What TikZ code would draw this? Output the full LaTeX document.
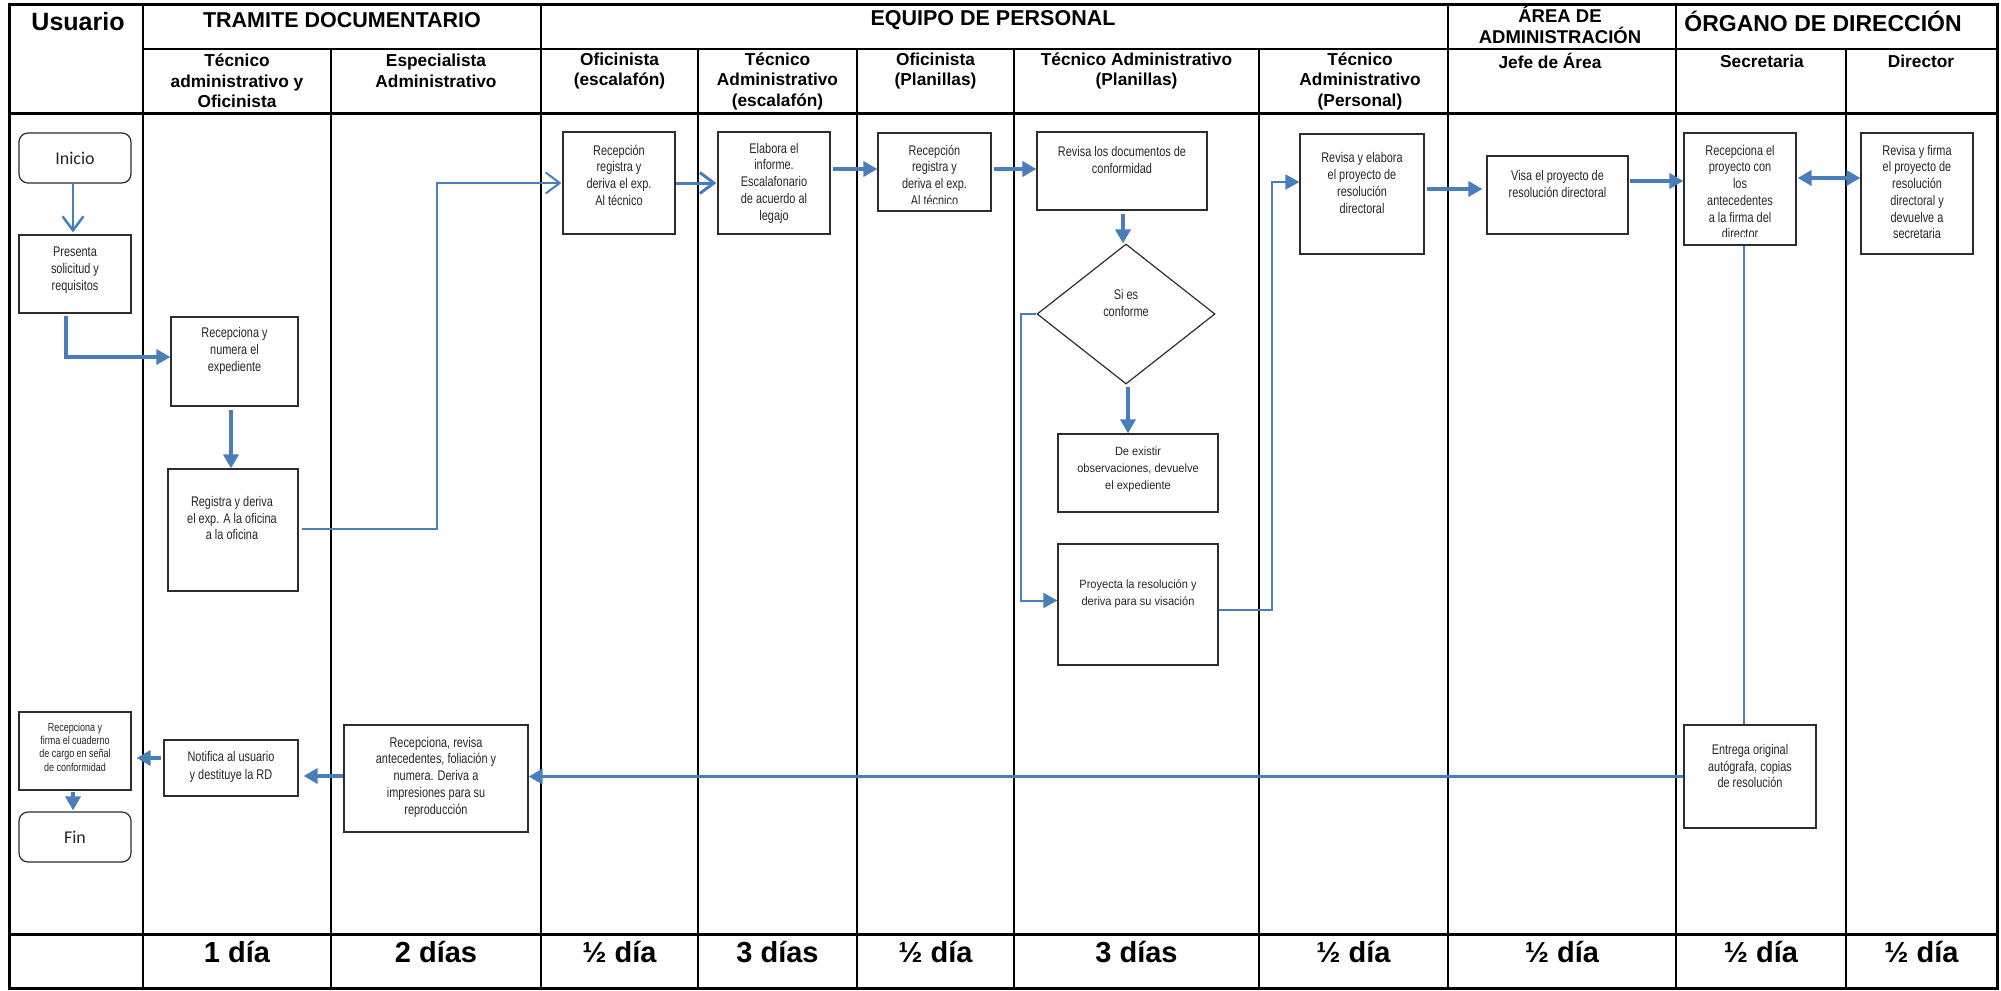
\documentclass[tikz,border=0pt]{standalone}
\usepackage{fontspec}
\setmainfont{Liberation Sans}
\newfontfamily\boxfont[FakeStretch=0.78]{Liberation Sans}
\newfontfamily\obsfont[FakeStretch=0.92]{Liberation Sans}
\newfontfamily\calib{Carlito}
\usetikzlibrary{arrows.meta,shapes.geometric,calc}
\definecolor{flow}{RGB}{74,126,187}
\definecolor{boxline}{RGB}{45,45,45}
\tikzset{
  gridline/.style={line width=2pt,black},
  gridthick/.style={line width=3pt,black},
  hdr/.style={font=\bfseries\fontsize{21.5}{24}\selectfont,inner sep=0pt,align=center},
  subhdr/.style={font=\bfseries\fontsize{17.3}{20.5}\selectfont,inner sep=0pt,align=center},
  daytxt/.style={font=\bfseries\fontsize{29}{32}\selectfont,inner sep=0pt},
  box/.style={draw=boxline,line width=1.2pt,rectangle,inner sep=0pt},
  term/.style={box,rounded corners=9pt,font=\calib\fontsize{18}{20}\selectfont,text=black!85},
  btxt/.style={font=\boxfont\fontsize{14}{16.7}\selectfont,align=center,text=black!85,inner sep=0pt},
  stxt/.style={font=\boxfont\fontsize{11.5}{13.3}\selectfont,align=center,text=black!85,inner sep=0pt},
  otxt/.style={font=\obsfont\fontsize{12}{17}\selectfont,align=center,text=black!85,inner sep=0pt},
  conn/.style={draw=flow,line width=3.5pt},
  thinconn/.style={draw=flow,line width=2pt},
  tri/.style={-{Triangle[length=14pt,width=15pt]}},
  dtri/.style={{Triangle[length=14pt,width=15pt]}-{Triangle[length=14pt,width=15pt]}},
  barb/.style={-{Straight Barb[length=14pt,width=21pt]}},
}
\begin{document}
\begin{tikzpicture}[x=1pt,y=-1pt]
\useasboundingbox (0,0) rectangle (2001,990);

% ---------- table grid ----------
\draw[gridthick] (9,5) rectangle (1997,988);
\draw[gridline] (143,49) -- (1997,49);
\draw[gridthick] (9,113) -- (1997,113);
\draw[gridthick] (9,934) -- (1997,934);
\foreach \x in {143,541,1448,1676} \draw[gridline] (\x,5) -- (\x,988);
\foreach \x in {331,698,857,1014,1259,1846} \draw[gridline] (\x,49) -- (\x,988);

% ---------- headers ----------
\node[hdr,font=\bfseries\fontsize{25}{28}\selectfont] (hUsuario) at (78,22) {Usuario};
\node[hdr] (hTramite) at (342,20) {TRAMITE DOCUMENTARIO};
\node[hdr] (hEquipo) at (993,20) {EQUIPO DE PERSONAL};
\node[hdr,font=\bfseries\fontsize{18.5}{21}\selectfont] (hArea) at (1560,25) {ÁREA DE\\ADMINISTRACIÓN};
\node[hdr,font=\bfseries\fontsize{23}{25}\selectfont] (hOrgano) at (1823,21) {ÓRGANO DE DIRECCIÓN};

\node[subhdr] (s1) at (237,81) {Técnico\\administrativo y\\Oficinista};
\node[subhdr] (s2) at (436,71) {Especialista\\Administrativo};
\node[subhdr] (s3) at (619.5,71) {Oficinista\\(escalafón)};
\node[subhdr] (s4) at (777.5,81) {Técnico\\Administrativo\\(escalafón)};
\node[subhdr] (s5) at (935.5,71) {Oficinista\\(Planillas)};
\node[subhdr] (s6) at (1136.5,71) {Técnico Administrativo\\(Planillas)};
\node[subhdr] (s7) at (1360,81) {Técnico\\Administrativo\\(Personal)};
\node[subhdr] (s8) at (1550,61) {Jefe de Área};
\node[subhdr] (s9) at (1762,61) {Secretaria};
\node[subhdr] (s10) at (1921,61) {Director};

% ---------- days row ----------
\node[daytxt] (d1) at (237,952) {1 día};
\node[daytxt] (d2) at (436,952) {2 días};
\node[daytxt] (d3) at (619.5,952) {½ día};
\node[daytxt] (d4) at (777.5,952) {3 días};
\node[daytxt] (d5) at (935.5,952) {½ día};
\node[daytxt] (d6) at (1136.5,952) {3 días};
\node[daytxt] (d7) at (1353.5,952) {½ día};
\node[daytxt] (d8) at (1562,952) {½ día};
\node[daytxt] (d9) at (1761,952) {½ día};
\node[daytxt] (d10) at (1921.5,952) {½ día};

% ---------- boxes ----------
\node[term,minimum width=112pt,minimum height=50pt] (inicio) at (75,158) {Inicio};
\node[box,minimum width=112pt,minimum height=78pt] (presenta) at (75,274) {};
\node[btxt] (presentaT) at (75,270) {Presenta\\solicitud y\\requisitos};
\node[box,minimum width=127pt,minimum height=89pt] (recnum) at (234.5,361.5) {};
\node[btxt] (recnumT) at (234.5,351) {Recepciona y\\numera el\\expediente};
\node[box,minimum width=130pt,minimum height=122pt] (registra) at (233,530) {};
\node[btxt] (registraT) at (232,518) {Registra y deriva\\el exp. A la oficina\\a la oficina};

\node[box,minimum width=112pt,minimum height=102pt] (recep1) at (619,183) {};
\node[btxt] (recep1T) at (619,175) {Recepción\\registra y\\deriva el exp.\\Al técnico};
\node[box,minimum width=112pt,minimum height=102pt] (elabora) at (774,183) {};
\node[btxt] (elaboraT) at (774,183) {Elabora el\\informe.\\Escalafonario\\de acuerdo al\\legajo};
\node[box,minimum width=113pt,minimum height=78pt] (recep2) at (934.5,172) {};
\begin{scope}
  \clip (878,133) rectangle (991,203);
  \node[btxt] (recep2T) at (934.5,175) {Recepción\\registra y\\deriva el exp.\\Al técnico};
\end{scope}
\node[box,minimum width=170pt,minimum height=78pt] (revisa) at (1122,171) {};
\node[btxt] (revisaT) at (1122,160) {Revisa los documentos de\\conformidad};
\node[box,diamond,minimum width=178pt,minimum height=140pt] (dia) at (1126,314) {};
\node[btxt] (diaT) at (1126,303) {Si es\\conforme};
\node[box,minimum width=160pt,minimum height=78pt] (deex) at (1138,473) {};
\node[otxt] (deexT) at (1138,469) {De existir\\observaciones, devuelve\\el expediente};
\node[box,minimum width=160pt,minimum height=121pt] (proy) at (1138,604.5) {};
\node[otxt] (proyT) at (1138,594) {Proyecta la resolución y\\deriva para su visación};

\node[box,minimum width=124pt,minimum height=120pt] (revelab) at (1362,194) {};
\node[btxt] (revelabT) at (1362,183) {Revisa y elabora\\el proyecto de\\resolución\\directoral};
\node[box,minimum width=141pt,minimum height=78pt] (visa) at (1557.5,195) {};
\node[btxt] (visaT) at (1557.5,184) {Visa el proyecto de\\resolución directoral};
\node[box,minimum width=112pt,minimum height=112pt] (recproy) at (1740,189) {};
\begin{scope}
  \clip (1684,133) rectangle (1796,236);
  \node[btxt] (recproyT) at (1740,192) {Recepciona el\\proyecto con\\los\\antecedentes\\a la firma del\\director};
\end{scope}
\node[box,minimum width=112pt,minimum height=121pt] (revfirma) at (1917,193.5) {};
\node[btxt] (revfirmaT) at (1917,192) {Revisa y firma\\el proyecto de\\resolución\\directoral y\\devuelve a\\secretaria};

\node[box,minimum width=132pt,minimum height=103pt] (entrega) at (1750,776.5) {};
\node[btxt] (entregaT) at (1750,766) {Entrega original\\autógrafa, copias\\de resolución};
\node[box,minimum width=184pt,minimum height=107pt] (recrev) at (436,778.5) {};
\node[btxt] (recrevT) at (436,777) {Recepciona, revisa\\antecedentes, foliación y\\numera. Deriva a\\impresiones para su\\reproducción};
\node[box,minimum width=134pt,minimum height=56pt] (notifica) at (231,768) {};
\node[btxt,font=\boxfont\fontsize{14}{18}\selectfont] (notificaT) at (231,767) {Notifica al usuario\\y destituye la RD};
\node[box,minimum width=112pt,minimum height=78pt] (recfirma) at (75,751) {};
\node[stxt] (recfirmaT) at (75,747) {Recepciona y\\firma el cuaderno\\de cargo en señal\\de conformidad};
\node[term,minimum width=112pt,minimum height=50pt] (fin) at (75,837) {Fin};

% ---------- connectors ----------
\draw[thinconn,line width=2.5pt,barb] ($(inicio.south)+(-2,0)$) -- ($(presenta.north)+(-2,-2)$);
\draw[conn,tri] ($(presenta.south)+(-9,2)$) |- ($(recnum.west)+(0,-4.5)$);
\draw[conn,tri] ($(recnum.south)+(-3.5,3)$) -- ($(recnum.south |- registra.north)+(-3.5,0)$);
\draw[thinconn,barb] ($(registra.east)+(3,-1)$) -- ++(135,0) |- ($(recep1.west)+(-1,0)$);
\draw[conn,line width=3pt,barb] (recep1.east) -- ($(elabora.west)+(-1,0)$);
\draw[conn,tri] ($(elabora.east |- recep2.west)+(2,-3)$) -- ($(recep2.west)+(0,-3)$);
\draw[conn,tri] ($(recep2.east)+(2,-3)$) -- ($(recep2.east -| revisa.west)+(0,-3)$);
\draw[conn,tri] ($(revisa.south)+(1,3)$) -- ($(revisa.south |- dia.north)+(1,0)$);
\draw[conn,tri] ($(dia.south)+(2,2)$) -- ($(dia.south |- deex.north)+(2,0)$);
\draw[thinconn,tri] (dia.west) -- ++(-15,0) |- ($(proy.west)+(0,-4)$);
\draw[thinconn,tri] ($(proy.east)+(0,5.5)$) -- ++(53,0) |- ($(revelab.west)+(0,-12)$);
\draw[conn,tri] ($(revelab.east)+(2,-5)$) -- ($(revelab.east -| visa.west)+(-4,-5)$);
\draw[conn,tri] ($(visa.east)+(1,-14)$) -- ($(visa.east -| recproy.west)+(0,-14)$);
\draw[conn,dtri] ($(recproy.east)+(1,-11)$) -- ($(recproy.east -| revfirma.west)+(0,-11)$);
\draw[thinconn] ($(recproy.south)+(4,0)$) -- ($(recproy.south |- entrega.north)+(4,0)$);
\draw[conn,tri] (entrega.west) -- (entrega.west -| recrev.east);
\draw[conn,tri] ($(recrev.west)+(0,-2.5)$) -- ($(recrev.west -| notifica.east)+(5,-2.5)$);
\draw[conn,tri] ($(notifica.west)+(-2,-10)$) -- ($(notifica.west -| recfirma.east)+(5,-10)$);
\draw[conn,tri] ($(recfirma.south)+(-2,1)$) -- ($(recfirma.south |- fin.north)+(-2,-1)$);
\end{tikzpicture}
\end{document}
